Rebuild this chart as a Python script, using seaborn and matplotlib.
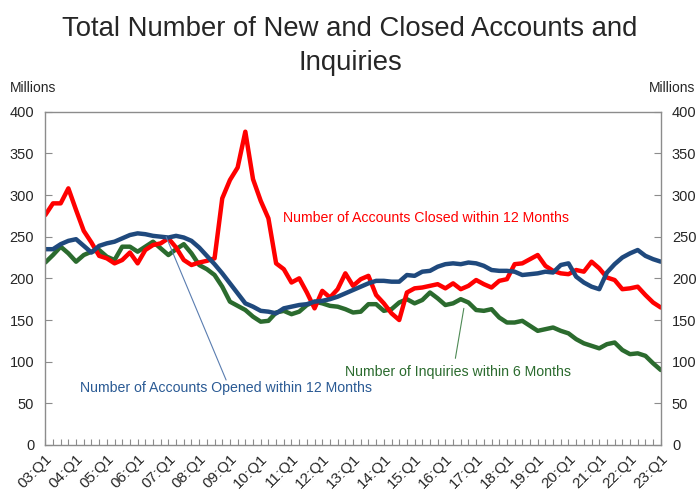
import matplotlib
matplotlib.use("Agg")
import matplotlib.pyplot as plt
import seaborn as sns
import pandas as pd
import numpy as np

# ---- data (millions), quarterly 03:Q1 .. 23:Q1 ----
quarters = [f"{y:02d}:Q{q}" for y in range(3, 23) for q in range(1, 5)] + ["23:Q1"]

closed_12m = [276, 290, 290, 308, 282, 257, 243, 227, 224, 218, 222, 231, 218, 234, 240, 242,
              248, 237, 222, 216, 219, 221, 224, 296, 318, 333, 376, 319, 293, 272, 218, 211,
              195, 200, 183, 164, 185, 177, 187, 206, 191, 199, 203, 180, 170, 158, 150, 183,
              188, 189, 191, 193, 188, 194, 187, 191, 198, 193, 189, 197, 199, 217, 218, 223,
              228, 215, 209, 206, 205, 210, 208, 220, 212, 201, 198, 187, 188, 190, 180, 171,
              165]
opened_12m = [235, 235, 241, 245, 247, 239, 231, 239, 242, 244, 248, 252, 254, 253, 251, 250,
              249, 251, 249, 245, 237, 227, 217, 206, 194, 182, 170, 166, 161, 160, 158, 164,
              166, 168, 169, 172, 173, 175, 178, 182, 186, 190, 194, 197, 197, 196, 196, 204,
              203, 208, 209, 214, 217, 218, 217, 219, 218, 215, 210, 209, 209, 208, 204, 205,
              206, 208, 207, 216, 218, 202, 195, 190, 187, 207, 217, 225, 230, 234, 227, 223,
              220]
inquiries_6m = [219, 228, 238, 230, 220, 228, 232, 234, 226, 222, 238, 238, 232, 238, 244, 236,
                228, 235, 241, 230, 216, 211, 204, 190, 172, 167, 162, 154, 148, 149, 159, 161,
                157, 160, 168, 172, 170, 167, 166, 163, 159, 160, 169, 169, 161, 163, 171, 175,
                170, 174, 183, 176, 168, 170, 175, 171, 162, 161, 163, 153, 147, 147, 149, 143,
                137, 139, 141, 137, 134, 127, 122, 119, 116, 121, 123, 114, 109, 110, 107, 98,
                90]

y_ticks = [0, 50, 100, 150, 200, 250, 300, 350, 400]
x_label_quarters = [f"{y:02d}:Q1" for y in range(3, 24)]

RED = "#FF0000"
BLUE = "#1F497D"
GREEN = "#2B6B2E"

sns.set_theme(style="white")
plt.rcParams["font.family"] = ["Liberation Sans", "DejaVu Sans"]

df = pd.DataFrame({
    "idx": np.arange(len(quarters)),
    "closed": closed_12m,
    "opened": opened_12m,
    "inquiries": inquiries_6m,
})

fig = plt.figure(figsize=(7, 4.91), dpi=100)
ax = fig.add_axes([0.0647, 0.0937, 0.944 - 0.0647, 0.7725 - 0.0937])

sns.lineplot(data=df, x="idx", y="inquiries", ax=ax, color=GREEN, lw=3.2)
sns.lineplot(data=df, x="idx", y="closed", ax=ax, color=RED, lw=3.2)
sns.lineplot(data=df, x="idx", y="opened", ax=ax, color=BLUE, lw=3.2)

ax.set_xlim(0, len(quarters) - 1)
ax.set_ylim(0, 400)
ax.set_xlabel("")
ax.set_ylabel("")

# axis frame
for sp in ax.spines.values():
    sp.set_color("#8C8C8C")
    sp.set_linewidth(1.0)

ax.set_yticks(y_ticks)
ax.set_yticklabels([str(v) for v in y_ticks])
ax.tick_params(axis="y", which="major", direction="in", length=5, width=0.8, color="#8C8C8C",
               left=True, right=True, labelleft=True, labelright=True, labelsize=10.5, pad=8)

pos = [quarters.index(q) for q in x_label_quarters]
ax.set_xticks(pos)
ax.set_xticklabels(x_label_quarters, rotation=45, ha="right", rotation_mode="anchor")
ax.set_xticks(np.arange(len(quarters)), minor=True)
ax.tick_params(axis="x", which="both", direction="in", length=4, width=0.8, color="#8C8C8C",
               bottom=True, labelsize=11, pad=5)

# annotations
ax.text(30.9, 272, "Number of Accounts Closed within 12 Months", color=RED,
        fontsize=10.2, va="center", ha="left")
ax.text(4.5, 68, "Number of Accounts Opened within 12 Months", color="#2A5A94",
        fontsize=10.2, va="center", ha="left")
ax.text(38.9, 88, "Number of Inquiries within 6 Months", color=GREEN,
        fontsize=10.2, va="center", ha="left")
ax.plot([15.7, 23.5], [250, 78], color="#5A7DB0", lw=0.8)
ax.plot([54.4, 53.3], [164, 104], color="#4E8A55", lw=0.8)

fig.text(10 / 700, 1 - 88 / 491, "Millions", fontsize=10, ha="left", va="center")
fig.text(695 / 700, 1 - 88 / 491, "Millions", fontsize=10, ha="right", va="center")

fig.text(0.5, 1 - 46 / 491, "Total Number of New and Closed Accounts and\nInquiries",
         fontsize=19.8, ha="center", va="center", linespacing=1.45)

fig.savefig("out.png", dpi=100)
